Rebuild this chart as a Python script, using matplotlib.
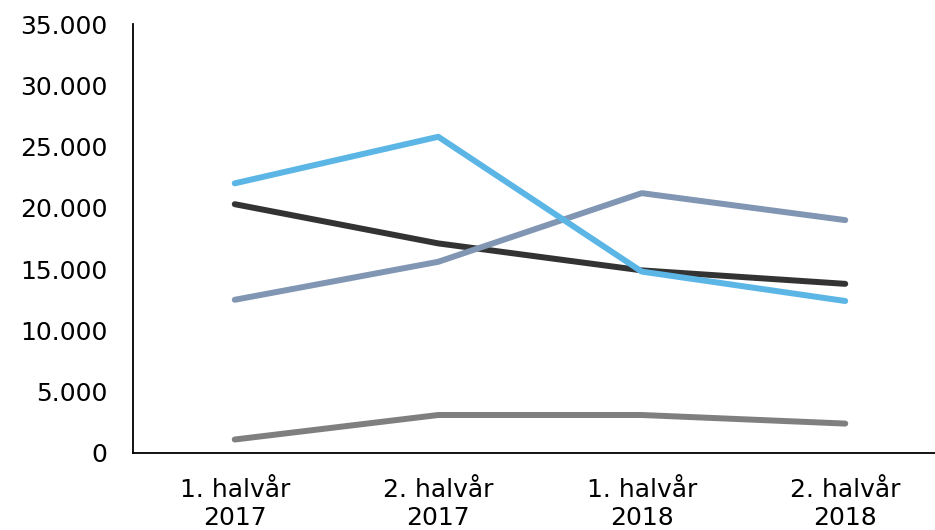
import matplotlib

matplotlib.use("Agg")
import matplotlib.pyplot as plt
from matplotlib.ticker import FuncFormatter

categories = ["1. halvår\n2017", "2. halvår\n2017", "1. halvår\n2018", "2. halvår\n2018"]

grey_vals = [1100, 3100, 3100, 2400]
black_vals = [20300, 17100, 14900, 13800]
slate_vals = [12500, 15600, 21200, 19000]
blue_vals = [22000, 25800, 14800, 12400]

series = [
    (grey_vals, "#7f7f7f"),
    (black_vals, "#333333"),
    (slate_vals, "#8096b3"),
    (blue_vals, "#5bb6e6"),
]

fig = plt.figure(figsize=(9.35, 5.3), dpi=100)
ax = fig.add_axes([133 / 935, 77 / 530, 814 / 935, 429 / 530])

xs = list(range(len(categories)))
for vals, color in series:
    ax.plot(xs, vals, color=color, linewidth=4.3, solid_capstyle="round",
            solid_joinstyle="round")

ax.set_xlim(-0.5, len(categories) - 0.5)
ax.set_ylim(0, 35000)
ax.set_yticks(range(0, 35001, 5000))
ax.yaxis.set_major_formatter(FuncFormatter(lambda v, _: f"{int(v):,}".replace(",", ".")))
ax.set_xticks(xs)
ax.set_xticklabels(categories, linespacing=1.22)

for s in ("top", "right"):
    ax.spines[s].set_visible(False)
for s in ("left", "bottom"):
    ax.spines[s].set_linewidth(1.3)
    ax.spines[s].set_color("#000000")

ax.tick_params(axis="y", length=0, pad=18.5, labelsize=18, colors="#000000")
ax.tick_params(axis="x", length=0, pad=18, labelsize=18, colors="#000000")

fig.savefig("out.png", dpi=100)
